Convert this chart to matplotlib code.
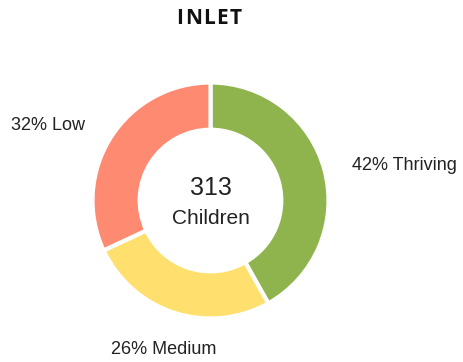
import matplotlib
matplotlib.use("Agg")
import matplotlib.pyplot as plt

title = "INLET"
categories = ["Thriving", "Medium", "Low"]
counts = [131, 82, 100]
colors = ["#8fb44d", "#ffe06e", "#ff8a72"]
center_label = "Children"

W, H, DPI = 463, 362, 100
fig = plt.figure(figsize=(W / DPI, H / DPI), dpi=DPI)
fig.patch.set_facecolor("white")

# donut axes placed in pixel terms
cx, cy, r = 210.5, 200.5, 118.0
ax = fig.add_axes([(cx - r) / W, (H - cy - r) / H, 2 * r / W, 2 * r / H])

wedges, _ = ax.pie(
    counts,
    colors=colors,
    startangle=90,
    counterclock=False,
    radius=1.0,
    wedgeprops=dict(width=0.4, edgecolor="white", linewidth=3),
)
for w in wedges:
    w.set_clip_on(False)
ax.set_xlim(-1, 1)
ax.set_ylim(-1, 1)
ax.set_aspect("equal")
ax.axis("off")

total = sum(counts)
pcts = [round(100 * c / total) for c in counts]

font = ["Liberation Sans", "DejaVu Sans"]
ax.text(0, 0.105, f"{total}", ha="center", va="center", fontsize=18,
        color="#222222", family=font)
ax.text(0, -0.15, center_label, ha="center", va="center", fontsize=15,
        color="#222222", family=font)

# outside labels (pixel anchors: left edge / vertical centre)
label_pos = {"Thriving": (352, 165), "Medium": (111, 350), "Low": (11, 126)}
for cat, p in zip(categories, pcts):
    x, y = label_pos[cat]
    fig.text(x / W, 1 - y / H, f"{p}% {cat}", ha="left", va="center",
             fontsize=13, color="#222222", family=font)

# letter-spaced title
renderer = fig.canvas.get_renderer()
tfont = dict(fontsize=15, fontweight="bold", color="#111111",
             family=["Open Sans", "DejaVu Sans"])
spacing = 1.6
letters = []
widths = []
for ch in title:
    t = fig.text(0, 1 - 18 / H, ch, ha="left", va="center", **tfont)
    letters.append(t)
    widths.append(t.get_window_extent(renderer).width)
total_w = sum(widths) + spacing * (len(title) - 1)
x0 = 209 - total_w / 2
for t, w in zip(letters, widths):
    t.set_x(x0 / W)
    x0 += w + spacing

fig.savefig("out.png", dpi=DPI, facecolor="white")
